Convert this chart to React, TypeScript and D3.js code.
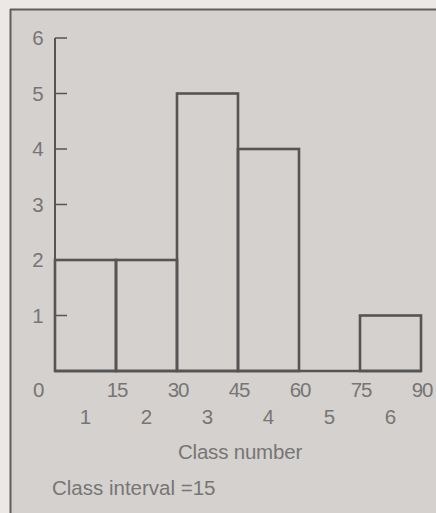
import React from "react";
import * as d3 from "d3";

const binEdges = [0, 15, 30, 45, 60, 75, 90];
const classNumbers = [1, 2, 3, 4, 5, 6];
const frequencies = [2, 2, 5, 4, 0, 1];
const yTicks = [1, 2, 3, 4, 5, 6];
const xLabel = "Class number";
const note = "Class interval =15";

const W = 436;
const H = 513;

export default function App() {
  const x = d3.scaleLinear().domain([0, 90]).range([55, 421]);
  const y = d3.scaleLinear().domain([0, 6]).range([371, 38]);
  const line = "#555555";
  const text = "#767676";
  const font = "'Liberation Sans', Arial, sans-serif";
  const fs = 20.5;

  return (
    <svg
      width={W}
      height={H}
      style={{ position: "absolute", left: 0, top: 0, display: "block" }}
      fontFamily={font}
    >
      <rect x={0} y={0} width={W} height={H} fill="#ebe8e5" />
      <rect x={10} y={9} width={W - 10} height={H - 9} fill="#d5d1ce" />
      <line x1={10.5} y1={9} x2={10.5} y2={H} stroke="#5f5f5f" strokeWidth={2} />
      <line x1={10} y1={9.5} x2={W} y2={9.5} stroke="#5f5f5f" strokeWidth={2} />

      {/* y axis */}
      <line x1={x(0)} y1={y(6)} x2={x(0)} y2={y(0)} stroke={line} strokeWidth={2} />
      {yTicks.map((t) => (
        <g key={t}>
          <line x1={x(0)} y1={y(t)} x2={x(0) + 12} y2={y(t)} stroke={line} strokeWidth={1.5} />
          <text x={38} y={y(t)} dy="0.36em" textAnchor="middle" fontSize={fs} fill={text}>
            {t}
          </text>
        </g>
      ))}

      {/* bars */}
      {frequencies.map((f, i) =>
        f > 0 ? (
          <rect
            key={i}
            x={x(binEdges[i])}
            y={y(f)}
            width={x(binEdges[i + 1]) - x(binEdges[i])}
            height={y(0) - y(f)}
            fill="none"
            stroke={line}
            strokeWidth={2.6}
          />
        ) : null
      )}
      <line x1={x(0)} y1={y(0)} x2={x(90)} y2={y(0)} stroke={line} strokeWidth={2.6} />

      {/* bin edge labels */}
      {binEdges.map((e) => (
        <text
          key={e}
          x={e === 0 ? 38 : x(e) + 1}
          y={390}
          dy="0.36em"
          textAnchor="middle"
          fontSize={fs}
          fill={text}
          letterSpacing={-1.2}
        >
          {e}
        </text>
      ))}
      {/* class numbers */}
      {classNumbers.map((c, i) => (
        <text
          key={c}
          x={(x(binEdges[i]) + x(binEdges[i + 1])) / 2}
          y={417}
          dy="0.36em"
          textAnchor="middle"
          fontSize={fs}
          fill={text}
        >
          {c}
        </text>
      ))}
      <text x={240} y={452} dy="0.36em" textAnchor="middle" fontSize={fs} fill={text} letterSpacing={-0.2}>
        {xLabel}
      </text>
      <text x={52} y={488} dy="0.36em" textAnchor="start" fontSize={fs} fill={text} letterSpacing={0}>
        {note}
      </text>
    </svg>
  );
}
